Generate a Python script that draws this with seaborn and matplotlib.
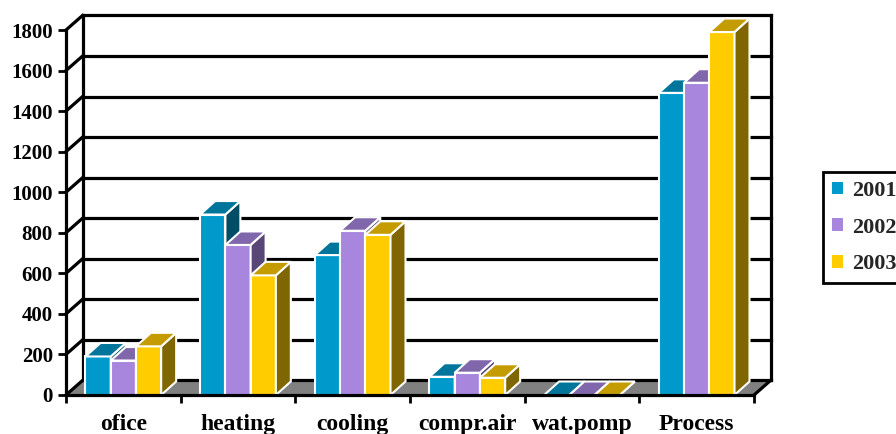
import numpy as np
import pandas as pd
import matplotlib
matplotlib.use("Agg")
import matplotlib.pyplot as plt
from matplotlib.patches import Polygon, Patch
import seaborn as sns

# Energy use per area and year
categories = ["ofice", "heating", "cooling", "compr.air", "wat.pomp", "Process"]
years = ["2001", "2002", "2003"]
values_2001 = [190, 890, 690, 90, 0, 1490]
values_2002 = [170, 740, 810, 110, 0, 1540]
values_2003 = [240, 590, 790, 85, 0, 1790]
y_ticks = [0, 200, 400, 600, 800, 1000, 1200, 1400, 1600, 1800]

front_colors = ["#0099CC", "#A886DD", "#FFCC00"]
top_colors = ["#00759C", "#8066AA", "#C49C00"]
side_colors = ["#004E66", "#584677", "#806600"]

df = pd.DataFrame({
    "category": categories * 3,
    "year": np.repeat(years, len(categories)),
    "value": values_2001 + values_2002 + values_2003,
})

sns.set_theme(style="white")
plt.rcParams["font.family"] = ["Liberation Serif", "DejaVu Serif"]
plt.rcParams["font.weight"] = "bold"

W, H = 896, 434
fig = plt.figure(figsize=(W / 100, H / 100), dpi=100)
ax = fig.add_axes([66 / W, 39 / H, 688 / W, 365 / H])

sns.barplot(data=df, x="category", y="value", hue="year", palette=front_colors,
            width=0.66, gap=0, saturation=1, edgecolor="white", linewidth=1.5,
            errorbar=None, legend=False, ax=ax)

ax.set_xlim(-0.5, 5.5)
ax.set_ylim(0, 1800)
for s in ax.spines.values():
    s.set_visible(False)
ax.set_xlabel("")
ax.set_ylabel("")

# pixel -> data scale for the oblique depth offsets
p0 = ax.transData.transform((0, 0))
p1 = ax.transData.transform((1, 1))
sx, sy = p1[0] - p0[0], p1[1] - p0[1]
bx, by = 15 / sx, 13.5 / sy      # bar depth
wx, wy = 16.5 / sx, 14.5 / sy    # wall depth
x_left, x_right = -0.5, 5.5

# floor
ax.add_patch(Polygon([(x_left, 0), (x_right, 0), (x_right + wx, wy), (x_left + wx, wy)],
                     closed=True, facecolor="#808080", edgecolor="none",
                     zorder=1, clip_on=False))

line_kw = dict(color="black", lw=2.3, clip_on=False, solid_capstyle="projecting")
# back wall grid and left wall diagonals
for v in y_ticks:
    ax.plot([x_left + wx, x_right + wx], [v + wy, v + wy], zorder=1.5, **line_kw)
    ax.plot([x_left, x_left + wx], [v, v + wy], zorder=1.5, **line_kw)
ax.plot([x_left + wx, x_left + wx], [wy, 1800 + wy], zorder=1.5, **line_kw)
ax.plot([x_right + wx, x_right + wx], [wy, 1800 + wy], zorder=1.5, **line_kw)

# top and side faces for each bar, painted left to right
for i, cont in enumerate(ax.containers):
    for j, bar in enumerate(cont):
        z = 3 + (j * 3 + i) * 0.01
        bar.set_zorder(z)
        x0, w, h = bar.get_x(), bar.get_width(), bar.get_height()
        top = Polygon([(x0, h), (x0 + w, h), (x0 + w + bx, h + by), (x0 + bx, h + by)],
                      closed=True, facecolor=top_colors[i], edgecolor="white",
                      lw=1.5, zorder=z, clip_on=False)
        side = Polygon([(x0 + w, 0), (x0 + w + bx, by), (x0 + w + bx, h + by), (x0 + w, h)],
                       closed=True, facecolor=side_colors[i], edgecolor="white",
                       lw=1.5, zorder=z, clip_on=False)
        ax.add_patch(side)
        ax.add_patch(top)

# front axes
ax.plot([x_left, x_left], [0, 1800], zorder=5, **line_kw)
ax.plot([x_left, x_right], [0, 0], zorder=5, **line_kw)
ax.plot([x_right, x_right + wx], [0, wy], zorder=5, **line_kw)

ax.set_yticks(y_ticks)
ax.set_yticklabels([str(v) for v in y_ticks])
ax.set_xticks(range(len(categories)))
ax.set_xticklabels(categories)
ax.set_xticks(np.arange(-0.5, len(categories), 1.0), minor=True)
ax.tick_params(axis="y", which="major", length=6, width=2, pad=3.5, labelsize=15,
               color="black", labelcolor="black", left=True)
ax.tick_params(axis="x", which="major", length=0, pad=14, labelsize=17,
               labelcolor="black")
ax.tick_params(axis="x", which="minor", length=5.5, width=2, color="black", bottom=True)
for lab in ax.get_xticklabels() + ax.get_yticklabels():
    lab.set_fontweight("bold")

handles = [Patch(facecolor=c, edgecolor="none") for c in front_colors]
leg = fig.legend(handles, years, loc="upper left",
                 bbox_to_anchor=(823 / W, 1 - 172 / H), bbox_transform=fig.transFigure,
                 frameon=True, fancybox=False, edgecolor="black", framealpha=1,
                 borderpad=0.4, labelspacing=0.75, handlelength=0.5, handleheight=0.5,
                 handletextpad=0.4, borderaxespad=0,
                 prop={"size": 16, "weight": "bold"})
leg.get_frame().set_linewidth(2)

fig.savefig("out.png", dpi=100)
